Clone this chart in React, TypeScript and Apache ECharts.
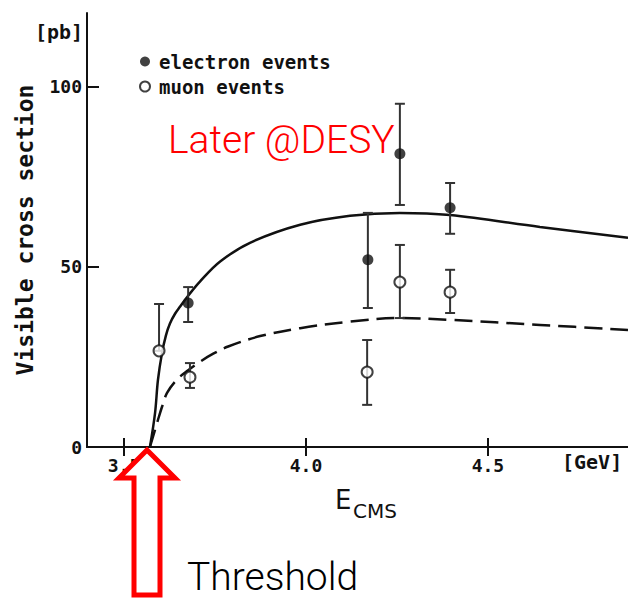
import React, { useEffect, useRef } from 'react';
import * as echarts from 'echarts';

// ---- data ----
const xTicks = [3.5, 4.0, 4.5];
const yTicks = [0, 50, 100];

const electronX = [3.676, 4.17, 4.258, 4.396];
const electronY = [40, 52, 81.4, 66.4];
const electronLo = [34.7, 38.6, 67.2, 59.2];
const electronHi = [44.4, 65, 95.3, 73.3];

const muonX = [3.596, 3.681, 4.168, 4.258, 4.396];
const muonY = [26.7, 19.4, 20.8, 45.8, 43];
const muonLo = [26.7, 16.4, 11.7, 35.8, 37.2];
const muonHi = [39.7, 23.3, 29.7, 56.1, 49.2];

const solidX = [3.571, 3.585, 3.593, 3.604, 3.615, 3.626, 3.64, 3.654, 3.676, 3.709, 3.764, 3.846, 3.984, 4.121, 4.258, 4.396, 4.643, 4.885];
const solidY = [0, 9.4, 18.6, 26.0, 31.0, 34.3, 37.0, 39.0, 42.0, 46.0, 51.5, 56.7, 61.7, 64.2, 65.0, 64.4, 61.1, 58.1];

const dashX = [3.571, 3.593, 3.604, 3.618, 3.646, 3.676, 3.709, 3.745, 3.786, 3.874, 3.984, 4.121, 4.258, 4.396, 4.643, 4.885];
const dashY = [0, 7.5, 11.1, 15.0, 18.8, 21.3, 23.7, 25.9, 27.9, 30.8, 33.0, 34.8, 35.8, 35.3, 33.9, 32.5];

const INK = '#111';
const MONO = 'DejaVu Sans Mono';

const zip = (a: number[], b: number[]) => a.map((v, i) => [v, b[i]]);
const zip3 = (a: number[], b: number[], c: number[]) => a.map((v, i) => [v, b[i], c[i]]);

const errRender = (params: any, api: any) => {
  const x = api.value(0);
  const lo = api.coord([x, api.value(1)]);
  const hi = api.coord([x, api.value(2)]);
  const w = 5;
  const st = { stroke: '#333', lineWidth: 2 };
  return {
    type: 'group',
    children: [
      { type: 'line', shape: { x1: lo[0], y1: lo[1], x2: hi[0], y2: hi[1] }, style: st },
      { type: 'line', shape: { x1: hi[0] - w, y1: hi[1], x2: hi[0] + w, y2: hi[1] }, style: st },
      { type: 'line', shape: { x1: lo[0] - w, y1: lo[1], x2: lo[0] + w, y2: lo[1] }, style: st },
    ],
  };
};

const option: any = {
  animation: false,
  backgroundColor: '#fff',
  grid: { left: 87, top: 13, right: 0, bottom: 153 },
  legend: {
    orient: 'vertical',
    left: 134,
    top: 47,
    itemWidth: 10,
    itemHeight: 10,
    itemGap: 6,
    textStyle: { fontFamily: MONO, fontSize: 19, fontWeight: 'bold', color: INK, padding: [0, 0, 0, 4] },
    data: [
      { name: 'electron events', icon: 'circle', itemStyle: { color: INK } },
      { name: 'muon events', icon: 'circle', itemStyle: { color: '#fff', borderColor: INK, borderWidth: 2 } },
    ],
  },
  xAxis: [
    {
      type: 'value',
      min: 3.398,
      max: 4.885,
      axisLine: { show: true, onZero: false, lineStyle: { color: INK, width: 2 } },
      axisTick: { show: true, inside: true, length: 9, customValues: xTicks, lineStyle: { color: INK, width: 2 } },
      axisLabel: {
        customValues: xTicks,
        formatter: (v: number) => v.toFixed(1),
        fontFamily: MONO,
        fontSize: 18,
        fontWeight: 'bold',
        color: INK,
        margin: 9,
      },
      splitLine: { show: false },
    },
    {
      type: 'value',
      position: 'top',
      min: 3.398,
      max: 4.885,
      axisLine: { show: true, lineStyle: { color: INK, width: 2 } },
      axisTick: { show: true, inside: true, length: 9, customValues: xTicks, lineStyle: { color: INK, width: 2 } },
      axisLabel: { show: false },
      splitLine: { show: false },
    },
  ],
  yAxis: {
    type: 'value',
    min: 0,
    max: 120.5,
    name: 'Visible cross section',
    nameLocation: 'middle',
    nameGap: 51,
    nameTextStyle: { fontFamily: MONO, fontSize: 23, fontWeight: 'bold', color: INK },
    axisLine: { show: true, lineStyle: { color: INK, width: 2 } },
    axisTick: { show: true, inside: true, length: 12, customValues: yTicks, lineStyle: { color: INK, width: 2 } },
    axisLabel: { customValues: yTicks, fontFamily: MONO, fontSize: 18, fontWeight: 'bold', color: INK, margin: 5 },
    splitLine: { show: false },
  },
  series: [
    {
      name: 'theory (electron)',
      type: 'line',
      data: zip(solidX, solidY),
      showSymbol: false,
      smooth: 0.35,
      lineStyle: { color: INK, width: 2.5 },
      z: 2,
    },
    {
      name: 'theory (muon)',
      type: 'line',
      data: zip(dashX, dashY),
      showSymbol: false,
      smooth: 0.35,
      lineStyle: { color: INK, width: 2.5, type: [18, 8] },
      z: 2,
    },
    {
      name: 'electron errors',
      type: 'custom',
      renderItem: errRender,
      data: zip3(electronX, electronLo, electronHi),
      encode: { x: 0, y: [1, 2] },
      z: 3,
    },
    {
      name: 'muon errors',
      type: 'custom',
      renderItem: errRender,
      data: zip3(muonX, muonLo, muonHi),
      encode: { x: 0, y: [1, 2] },
      z: 3,
    },
    {
      name: 'electron events',
      type: 'scatter',
      data: zip(electronX, electronY),
      symbol: 'circle',
      symbolSize: 11,
      itemStyle: { color: INK },
      z: 4,
    },
    {
      name: 'muon events',
      type: 'scatter',
      data: zip(muonX, muonY),
      symbol: 'circle',
      symbolSize: 11,
      itemStyle: { color: '#fff', borderColor: INK, borderWidth: 2 },
      z: 4,
    },
  ],
  graphic: [
    { type: 'text', left: 35, top: 22, style: { text: '[pb]', font: `bold 20px ${MONO}`, fill: INK } },
    { type: 'text', left: 562, top: 452, style: { text: '[GeV]', font: `bold 20px ${MONO}`, fill: INK } },
    { type: 'text', x: 335, y: 500, style: { text: 'E', font: '26px "DejaVu Sans"', fill: INK, verticalAlign: 'middle' } },
    { type: 'text', x: 353, y: 511, style: { text: 'CMS', font: '20px "DejaVu Sans"', fill: INK, verticalAlign: 'middle' } },
    {
      type: 'text',
      x: 168,
      y: 140,
      style: { text: 'Later @DESY', font: '300 39px Roboto', fill: '#f00', verticalAlign: 'middle' },
      z: 10,
    },
    {
      type: 'text',
      x: 187,
      y: 577,
      style: { text: 'Threshold', font: '300 39px Roboto', fill: '#000', verticalAlign: 'middle' },
      z: 10,
    },
    {
      type: 'polygon',
      shape: {
        points: [
          [147, 450],
          [175, 478],
          [160, 478],
          [160, 595],
          [134, 595],
          [134, 478],
          [119, 478],
        ],
      },
      style: { fill: '#fff', stroke: '#f00', lineWidth: 5, lineJoin: 'miter' },
      z: 10,
    },
  ],
};

export default function App() {
  const ref = useRef<HTMLDivElement>(null);
  useEffect(() => {
    document.body.style.margin = '0';
    const chart = echarts.init(ref.current as HTMLDivElement, null, { renderer: 'svg' });
    chart.setOption(option);
    return () => chart.dispose();
  }, []);
  return <div ref={ref} style={{ width: 628, height: 600 }} />;
}
